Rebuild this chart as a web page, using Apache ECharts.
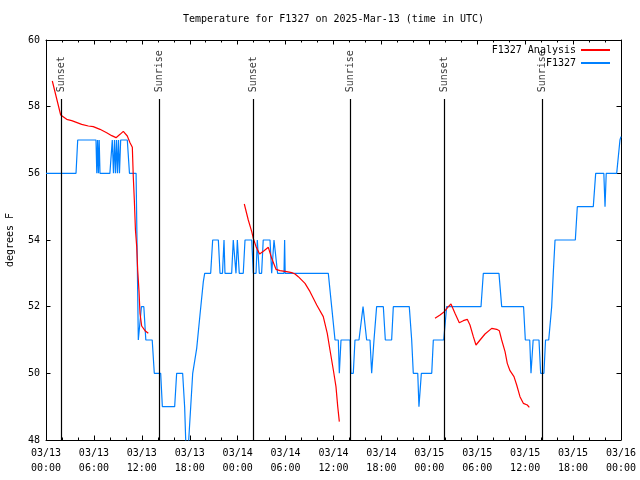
<!DOCTYPE html>
<html>
<head>
<meta charset="utf-8">
<script src="https://cdn.jsdelivr.net/npm/echarts@6/dist/echarts.min.js"></script>
<style>html,body{margin:0;padding:0;background:#fff}#c{width:640px;height:480px}</style>
</head>
<body>
<div id="c"></div>
<script>
// x values are hours since 2025-03-13 00:00 UTC
const xTickLabels = ['03/13\n00:00','03/13\n06:00','03/13\n12:00','03/13\n18:00','03/14\n00:00','03/14\n06:00','03/14\n12:00','03/14\n18:00','03/15\n00:00','03/15\n06:00','03/15\n12:00','03/15\n18:00','03/16\n00:00'];
const sunEventHours = [1.92, 14.15, 25.93, 38.1, 49.9, 62.15];
const sunEventLabels = ['Sunset','Sunrise','Sunset','Sunrise','Sunset','Sunrise'];

const blueObs = [
[0,56],[3.76,56],[3.97,57],[6.26,57],[6.36,56],[6.46,57],[6.56,56],[6.66,57],[6.76,56],[8.0,56],[8.3,57],[8.45,56],[8.58,57],[8.7,56],[8.83,57],[8.95,56],[9.08,57],[9.2,56],[9.35,57],[10.18,57],[10.45,56],[11.28,56],[11.56,51],[11.7,51],[11.95,52],[12.25,52],[12.5,51],[13.3,51],[13.56,50],[14.36,50],[14.57,49],[16.11,49],[16.36,50],[17.11,50],[17.36,49],[17.52,47.8],[17.82,47.8],[18.12,49],[18.37,50],[18.87,50.75],[19.28,51.75],[19.7,52.75],[19.87,53],[20.62,53],[20.87,54],[21.58,54],[21.79,53],[22.1,53],[22.29,54],[22.41,53],[23.25,53],[23.45,54],[23.7,54],[23.79,53],[23.96,54],[24.2,53],[24.7,53],[24.92,54],[25.76,54],[25.96,53],[26.3,53],[26.46,54],[26.71,53],[27.0,53],[27.2,54],[28.05,54],[28.26,53],[28.55,54],[28.8,54],[29.0,53],[29.8,53],[29.88,54],[29.95,53],[35.35,53],[35.77,52],[36.19,51],[36.6,51],[36.73,50],[36.94,51],[38.07,51],[38.19,50],[38.48,50],[38.69,51],[39.19,51],[39.7,52],[39.85,52],[40.15,51],[40.57,51],[40.78,50],[40.95,50],[41.07,51],[41.4,52],[42.24,52],[42.49,51],[43.28,51],[43.49,52],[45.49,52],[45.79,51],[45.99,50],[46.55,50],[46.7,49],[46.8,49],[47.0,50],[48.3,50],[48.5,51],[49.8,51],[50.17,52],[54.47,52],[54.76,53],[56.72,53],[57.06,52],[59.8,52],[60.02,51],[60.57,51],[60.73,50],[60.8,50],[61.0,51],[61.73,51],[61.94,50],[62.35,50],[62.55,51],[62.95,51],[63.32,52],[63.52,53],[63.74,54],[66.28,54],[66.53,55],[68.53,55],[68.83,56],[69.85,56],[70.0,55],[70.15,56],[71.46,56],[71.87,57],[72,57.1]
];

const redAnalysis1 = [
[0.79,58.77],[1.84,57.75],[2.59,57.62],[3.22,57.58],[4.47,57.47],[5.3,57.42],[5.92,57.4],[6.76,57.32],[7.6,57.22],[8.23,57.13],[8.77,57.07],[9.27,57.17],[9.68,57.26],[10.18,57.12],[10.52,56.92],[10.81,56.78],[10.93,55.9],[11.06,55.2],[11.2,54.3],[11.36,53.8],[11.48,53.1],[11.65,52.45],[11.77,51.8],[11.98,51.42],[12.4,51.28],[12.81,51.2]
];
const redAnalysis2 = [
[24.83,55.08],[25.33,54.6],[25.76,54.25],[25.96,54.05],[26.3,53.8],[26.75,53.58],[27.3,53.68],[27.84,53.78],[28.26,53.45],[28.8,53.12],[29.3,53.08],[30.14,53.05],[30.77,53.02],[31.18,52.98],[31.59,52.9],[32.43,52.7],[33.06,52.45],[33.9,52.05],[34.72,51.7],[35.22,51.2],[35.56,50.7],[35.98,50.1],[36.31,49.6],[36.53,49.0],[36.73,48.55]
];
const redAnalysis3 = [
[48.71,51.65],[49.34,51.75],[49.87,51.85],[50.38,52.0],[50.71,52.08],[51.21,51.8],[51.75,51.52],[52.25,51.58],[52.75,51.62],[53.09,51.45],[53.51,51.1],[53.84,50.85],[54.35,51.0],[54.97,51.18],[55.81,51.35],[56.44,51.32],[56.76,51.28],[57.06,51.0],[57.48,50.65],[57.76,50.3],[58.1,50.08],[58.6,49.9],[58.94,49.65],[59.35,49.3],[59.77,49.1],[60.27,49.05],[60.52,48.98]
];

const FONT = 'DejaVu Sans Mono';
const lineTop = 58.23, labelBase = 58.43;
const RED = '#ff0000', BLUE = '#0080ff';

const chart = echarts.init(document.getElementById('c'), null, {renderer:'canvas'});
const axisCommon = {
  axisLine:{show:true, onZero:false, lineStyle:{color:'#000', width:1}},
  splitLine:{show:false}
};
const redSeries = [redAnalysis1, redAnalysis2, redAnalysis3].map(d => ({
  type:'line', name:'F1327 Analysis', data:d, showSymbol:false, symbol:'none',
  lineStyle:{color:RED, width:1.2}, itemStyle:{color:RED}, z:4
}));

chart.setOption({
  animation:false,
  textStyle:{fontFamily:FONT},
  title:{text:'Temperature for F1327 on 2025-Mar-13 (time in UTC)', left:183, top:14, padding:0,
    textStyle:{fontFamily:FONT, fontSize:10, fontWeight:'normal', color:'#000'}},
  legend:{data:['F1327 Analysis','F1327'], orient:'vertical', right:30, top:44, align:'right', padding:0,
    itemWidth:29, itemHeight:2, itemGap:1, icon:'rect',
    textStyle:{fontFamily:FONT, fontSize:10, color:'#000', lineHeight:12}},
  grid:{left:46, top:40, right:19, bottom:40, containLabel:false, outerBoundsMode:'none'},
  xAxis:[
    Object.assign({type:'value', min:0, max:72, interval:6, position:'bottom',
      axisTick:{show:true, inside:true, length:4.5, lineStyle:{color:'#000'}},
      minorTick:{show:true, splitNumber:3, length:2.5, lineStyle:{color:'#000'}},
      axisLabel:{show:true, margin:6, color:'#000', fontFamily:FONT, fontSize:10, lineHeight:15,
        formatter:v => xTickLabels[Math.round(v/6)]}}, axisCommon),
    Object.assign({type:'value', min:0, max:72, interval:6, position:'top',
      axisTick:{show:true, inside:true, length:4.5, lineStyle:{color:'#000'}},
      minorTick:{show:true, splitNumber:3, length:2.5, lineStyle:{color:'#000'}},
      axisLabel:{show:false}}, axisCommon)
  ],
  yAxis:[
    Object.assign({type:'value', min:48, max:60, interval:2, position:'left',
      name:'degrees F', nameLocation:'middle', nameRotate:90, nameGap:31,
      nameTextStyle:{fontFamily:FONT, fontSize:10, color:'#000'},
      axisTick:{show:true, inside:true, length:4.5, lineStyle:{color:'#000'}},
      axisLabel:{show:true, margin:6, color:'#000', fontFamily:FONT, fontSize:10}}, axisCommon),
    Object.assign({type:'value', min:48, max:60, interval:2, position:'right',
      axisTick:{show:true, inside:true, length:4.5, lineStyle:{color:'#000'}},
      axisLabel:{show:false}}, axisCommon)
  ],
  series:[
    {type:'scatter', name:'sun', symbolSize:0, silent:true, z:3,
      data: sunEventHours.map((h,i) => ({value:[h, labelBase], label:{formatter: sunEventLabels[i]}})),
      label:{show:true, position:[0,0], rotate:90, align:'left', verticalAlign:'middle',
        fontFamily:FONT, fontSize:10, color:'#000'},
      markLine:{silent:true, symbol:['none','none'], animation:false,
        lineStyle:{color:'#000', width:1.2, type:'solid'}, label:{show:false},
        data: sunEventHours.map(h => [{coord:[h,48]},{coord:[h,lineTop]}])}
    },
    {type:'line', name:'F1327', data:blueObs, showSymbol:false, symbol:'none',
      lineStyle:{color:BLUE, width:1.2}, itemStyle:{color:BLUE}, z:3},
    ...redSeries
  ]
});
</script>
</body>
</html>
